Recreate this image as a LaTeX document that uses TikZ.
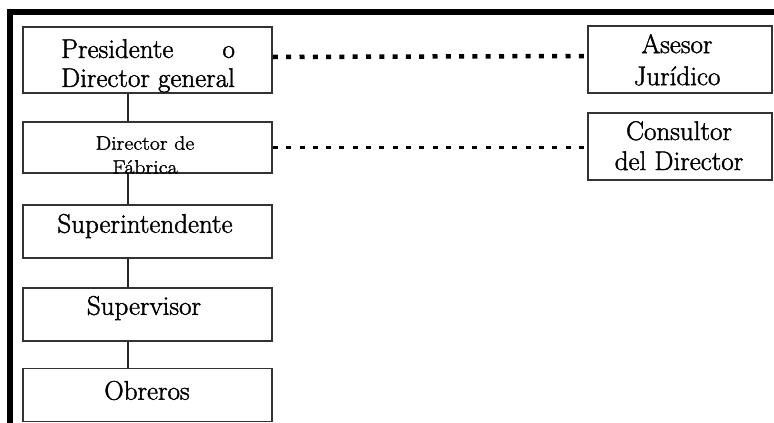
\documentclass[tikz,border=0pt]{standalone}
\usepackage{fontspec}
\setmainfont{Latin Modern Roman}[FakeBold=1.5]
\usepackage{graphicx}
\begin{document}
\begin{tikzpicture}[x=1pt,y=-1pt,
  box/.style={draw=black!80, line width=1.8pt, inner sep=0pt, minimum width=249pt},
  rbox/.style={box, minimum width=184pt, minimum height=67pt},
  txt/.style={inner sep=0pt, align=center, font=\fontsize{27}{29}\selectfont},
  link/.style={draw=black!85, line width=1.8pt},
  dotline/.style={draw=black, line width=4.5pt, dash pattern=on 5pt off 8.3pt}
]
\useasboundingbox (0,0) rectangle (774,423);
% frame bars
\fill[black] (7,9) rectangle (13,423);
\fill[black] (7,9) rectangle (774,15);
% left column boxes
\node[box, minimum height=66pt] (b1) at (147.5,60) {};
\node[box, minimum height=51pt] (b2) at (147.5,147.5) {};
\node[box, minimum height=53pt] (b3) at (147.5,231.5) {};
\node[box, minimum height=53pt] (b4) at (147.5,314.5) {};
\node[box, minimum height=53pt] (b5) at (147.5,395) {};
% right boxes
\node[rbox] (r1) at (680,59.5) {};
\node[rbox] (r2) at (680,146.5) {};
% texts
\node[txt] (t1) at (148,65.8) {\setbox0\hbox{Director general}\hbox to\wd0{Presidente\hfill o}\\Director general};
\node[txt, font=\fontsize{19.5}{24}\selectfont] (t2) at (145,155) {\scalebox{1.12}[1]{Director de}\\\scalebox{1.12}[1]{Fábrica}};
\node[txt] (t3) at (145,226) {Superintendente};
\node[txt] (t4) at (144,308) {Supervisor};
\node[txt] (t5) at (147,390.5) {Obreros};
\node[txt, font=\fontsize{27}{32}\selectfont] (t6) at (677,59.8) {Asesor\\Jurídico};
\node[txt, font=\fontsize{27}{30}\selectfont] (t7) at (679,145.7) {Consultor\\del Director};
% vertical connectors
\coordinate (spine) at (128,0);
\draw[link] (b1.south -| spine) -- (b2.north -| spine);
\draw[link] (b2.south -| spine) -- (b3.north -| spine);
\draw[link] (b3.south -| spine) -- (b4.north -| spine);
\draw[link] (b4.south -| spine) -- (b5.north -| spine);
% dotted staff links
\draw[dotline] ([yshift=3pt]b1.east) -- ([yshift=3.5pt]r1.west);
\draw[dotline, line width=3.8pt] (b2.east) -- (r2.west |- b2.east);
\end{tikzpicture}
\end{document}
